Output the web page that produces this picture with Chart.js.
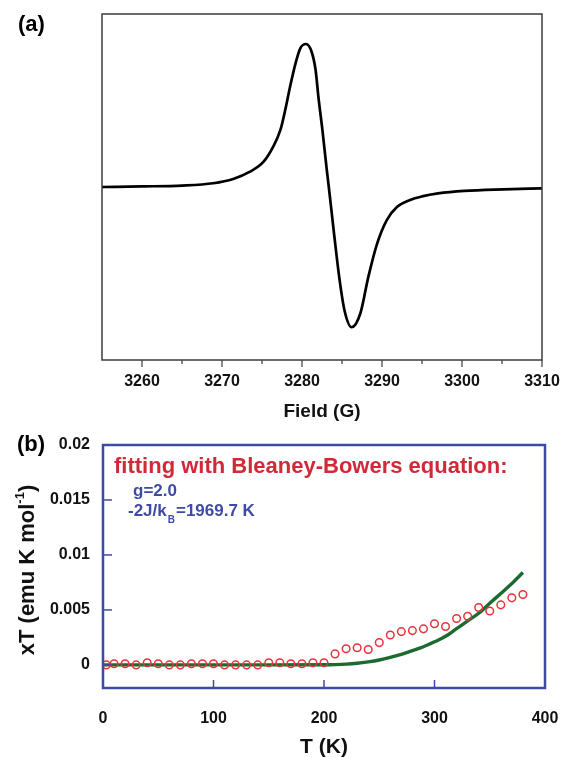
<!DOCTYPE html>
<html>
<head>
<meta charset="utf-8">
<script src="https://cdn.jsdelivr.net/npm/chart.js@4.4.1/dist/chart.umd.min.js"></script>
<style>
  body { margin: 0; background: #fff; }
  canvas { position: absolute; left: 0; }
  #epr { top: 0; }
  #chi { top: 430px; }
</style>
</head>
<body>
<canvas id="epr" width="561" height="430"></canvas>
<canvas id="chi" width="561" height="328"></canvas>
<script>
// (a) EPR spectrum
const fieldG = [3255, 3260, 3265, 3268.9, 3271.4, 3273.5, 3275.2, 3276.4, 3277.3, 3277.9, 3278.5, 3279.2, 3279.8, 3280.5, 3281.2, 3281.7, 3282.05, 3282.55, 3283.1, 3283.35, 3284.05, 3284.7, 3285.3, 3286.2, 3287.3, 3288.3, 3289.4, 3290.6, 3291.9, 3293.5, 3295, 3297, 3300.3, 3305.2, 3310];
const signal = [0, 0.004, 0.01, 0.026, 0.056, 0.107, 0.177, 0.282, 0.399, 0.538, 0.70, 0.867, 0.972, 1.0, 0.946, 0.818, 0.63, 0.399, 0.119, 0, -0.348, -0.65, -0.86, -0.981, -0.883, -0.627, -0.394, -0.231, -0.138, -0.091, -0.066, -0.045, -0.027, -0.016, -0.009];
const fieldTicks = [3260, 3270, 3280, 3290, 3300, 3310];
const fieldMinor = [3265, 3275, 3285, 3295, 3305];

// (b) xT vs T
const tempK = [3, 10, 20, 30, 40, 50, 60, 70, 80, 90, 100, 110, 120, 130, 140, 150, 160, 170, 180, 190, 200, 210, 220, 230, 240, 250, 260, 270, 280, 290, 300, 310, 320, 330, 340, 350, 360, 370, 380];
const xTmeas = [0, 0.0001, 0.0001, 0, 0.0002, 0.0001, 0, 0, 0.0001, 0.0001, 0.0001, 0, 0, 0, 0, 0.0002, 0.0002, 0.0001, 0.0001, 0.0002, 0.0002, 0.001, 0.00147, 0.00156, 0.0014, 0.00203, 0.00272, 0.00303, 0.00312, 0.00328, 0.00375, 0.0035, 0.00422, 0.00443, 0.00522, 0.0049, 0.00546, 0.0061, 0.0064];
const fitT = [0, 50, 100, 150, 200, 210, 220, 230, 240, 250, 260, 270, 280, 290, 300, 310, 320, 330, 340, 350, 360, 370, 380];
const fitXT = [0, 0, 0, 0, 0.00001, 0.00003, 0.00007, 0.00015, 0.00028, 0.00045, 0.00068, 0.00095, 0.0013, 0.00165, 0.0021, 0.0026, 0.0033, 0.004, 0.0047, 0.0056, 0.0065, 0.0074, 0.0084];
const tempTicks = [0, 100, 200, 300, 400];
const xTticks = [0, 0.005, 0.01, 0.015, 0.02];

const FONT = "'Liberation Sans', Arial, sans-serif";
const BLUE = '#3d4ba5';
const RED = '#cf2a38';
const NONE = 'rgba(0,0,0,0)';

function pts(xs, ys) {
  return xs.map((x, i) => ({ x: x, y: ys[i] }));
}

function panelLabel(text, x, y) {
  return {
    id: 'panel' + text,
    afterDraw(chart) {
      const ctx = chart.ctx;
      ctx.save();
      ctx.font = 'bold 22px ' + FONT;
      ctx.fillStyle = '#000';
      ctx.textBaseline = 'middle';
      ctx.fillText(text, x, y);
      ctx.restore();
    }
  };
}

// frame + tick marks for (a)
const eprFrame = {
  id: 'eprFrame',
  afterDraw(chart) {
    const ctx = chart.ctx, a = chart.chartArea, sx = chart.scales.x;
    ctx.save();
    ctx.strokeStyle = '#3c3c3c';
    ctx.lineWidth = 1.5;
    ctx.strokeRect(a.left, a.top, a.right - a.left, a.bottom - a.top);
    ctx.lineWidth = 1.2;
    const mark = (v, len) => {
      const px = sx.getPixelForValue(v);
      ctx.beginPath();
      ctx.moveTo(px, a.bottom);
      ctx.lineTo(px, a.bottom + len);
      ctx.stroke();
    };
    fieldTicks.forEach(v => mark(v, 7));
    fieldMinor.forEach(v => mark(v, 4));
    ctx.restore();
  }
};

new Chart(document.getElementById('epr'), {
  type: 'line',
  data: {
    datasets: [{
      data: pts(fieldG, signal),
      borderColor: '#000',
      borderWidth: 2.7,
      pointRadius: 0,
      cubicInterpolationMode: 'monotone'
    }]
  },
  options: {
    responsive: false,
    animation: false,
    layout: { padding: { left: 102, right: 19, top: 14, bottom: 0 } },
    plugins: { legend: { display: false }, tooltip: { enabled: false } },
    scales: {
      x: {
        type: 'linear',
        min: 3255,
        max: 3310,
        afterBuildTicks: s => { s.ticks = fieldTicks.map(v => ({ value: v })); },
        afterFit: s => { s.height = 70; },
        border: { display: false },
        grid: { drawOnChartArea: false, tickLength: 12, tickColor: NONE },
        ticks: { padding: 0, color: '#111', font: { family: FONT, size: 16, weight: 'bold' }, callback: v => v },
        title: { display: true, text: 'Field (G)', color: '#111', padding: { top: 0, bottom: 6.5 }, font: { family: FONT, size: 19, weight: 'bold' } }
      },
      y: { display: false, min: -1.21, max: 1.21 }
    }
  },
  plugins: [eprFrame, panelLabel('(a)', 18, 25)]
});

// box, inward ticks, y title and notes for (b)
const chiDecor = {
  id: 'chiDecor',
  afterDraw(chart) {
    const ctx = chart.ctx, a = chart.chartArea, sx = chart.scales.x, sy = chart.scales.y;
    ctx.save();
    ctx.strokeStyle = BLUE;
    ctx.lineWidth = 1.5;
    tempTicks.slice(1, -1).forEach(v => {
      const px = sx.getPixelForValue(v);
      ctx.beginPath();
      ctx.moveTo(px, a.bottom);
      ctx.lineTo(px, a.bottom - 8);
      ctx.stroke();
    });
    xTticks.slice(0, -1).forEach(v => {
      const py = sy.getPixelForValue(v);
      ctx.beginPath();
      ctx.moveTo(a.left, py);
      ctx.lineTo(a.left + 9, py);
      ctx.stroke();
    });
    ctx.lineWidth = 2.5;
    ctx.strokeRect(a.left, a.top, a.right - a.left, a.bottom - a.top);

    // y axis title with superscript
    ctx.translate(33.5, 140);
    ctx.rotate(-Math.PI / 2);
    ctx.fillStyle = '#111';
    ctx.textBaseline = 'alphabetic';
    const big = 'bold 22px ' + FONT, small = 'bold 13px ' + FONT;
    const p1 = 'xT (emu K mol', p2 = '-1', p3 = ')';
    ctx.font = big;
    const w1 = ctx.measureText(p1).width, w3 = ctx.measureText(p3).width;
    ctx.font = small;
    const w2 = ctx.measureText(p2).width;
    let x0 = -(w1 + w2 + w3) / 2;
    ctx.font = big;
    ctx.fillText(p1, x0, 0);
    ctx.font = small;
    ctx.fillText(p2, x0 + w1, -10);
    ctx.font = big;
    ctx.fillText(p3, x0 + w1 + w2, 0);
    ctx.setTransform(1, 0, 0, 1, 0, 0);

    // fit notes
    ctx.textBaseline = 'middle';
    ctx.fillStyle = RED;
    ctx.font = 'bold 22px ' + FONT;
    ctx.fillText('fitting with Bleaney-Bowers equation:', a.left + 11, a.top + 22);
    ctx.fillStyle = BLUE;
    ctx.font = 'bold 17px ' + FONT;
    ctx.fillText('g=2.0', a.left + 30, a.top + 46);
    const ly = a.top + 66;
    let lx = a.left + 25;
    ctx.fillText('-2J/k', lx, ly);
    lx += ctx.measureText('-2J/k').width + 1;
    ctx.font = 'bold 10px ' + FONT;
    ctx.fillText('B', lx, ly + 9);
    lx += ctx.measureText('B').width + 1;
    ctx.font = 'bold 17px ' + FONT;
    ctx.fillText('=1969.7 K', lx, ly);
    ctx.restore();
  }
};

new Chart(document.getElementById('chi'), {
  type: 'line',
  data: {
    datasets: [{
      data: pts(tempK, xTmeas),
      showLine: false,
      pointStyle: 'circle',
      pointRadius: 3.8,
      pointBorderWidth: 1.5,
      pointBorderColor: '#e8323c',
      pointBackgroundColor: NONE
    }, {
      data: pts(fitT, fitXT),
      borderColor: '#1c6a2f',
      borderWidth: 3.4,
      pointRadius: 0,
      cubicInterpolationMode: 'monotone'
    }]
  },
  options: {
    responsive: false,
    animation: false,
    layout: { padding: { left: 0, right: 16, top: 15, bottom: 0 } },
    plugins: { legend: { display: false }, tooltip: { enabled: false } },
    scales: {
      x: {
        type: 'linear',
        min: 0,
        max: 400,
        afterBuildTicks: s => { s.ticks = tempTicks.map(v => ({ value: v })); },
        afterFit: s => { s.height = 70; },
        border: { display: false },
        grid: { drawOnChartArea: false, tickLength: 21, tickColor: NONE },
        ticks: { padding: 0, color: '#111', font: { family: FONT, size: 16, weight: 'bold' }, callback: v => v },
        title: { display: true, text: 'T (K)', color: '#111', padding: { top: 0, bottom: 0 }, font: { family: FONT, size: 21, weight: 'bold', lineHeight: 1.0 } }
      },
      y: {
        min: -0.0021,
        max: 0.02,
        afterBuildTicks: s => { s.ticks = xTticks.map(v => ({ value: v })); },
        afterFit: s => { s.width = 103; },
        border: { display: false },
        grid: { drawOnChartArea: false, tickLength: 13, tickColor: NONE },
        ticks: { padding: 0, color: '#111', font: { family: FONT, size: 16, weight: 'bold' }, callback: v => String(v) }
      }
    }
  },
  plugins: [chiDecor, panelLabel('(b)', 17, 15)]
});
</script>
</body>
</html>
